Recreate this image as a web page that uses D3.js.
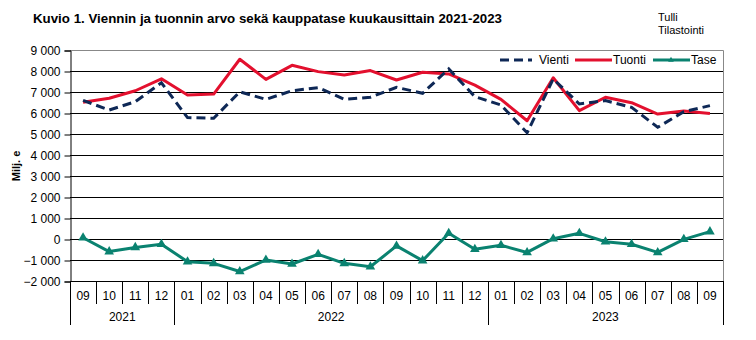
<!DOCTYPE html>
<html><head><meta charset="utf-8">
<script src="https://cdn.jsdelivr.net/npm/d3@7"></script>
<style>body{margin:0;background:#fff}svg{display:block;font-family:"Liberation Sans",Arial,sans-serif}</style>
</head><body><svg id="c" width="756" height="340"></svg>
<script>
const months = ["09","10","11","12","01","02","03","04","05","06","07","08","09","10","11","12","01","02","03","04","05","06","07","08","09"];
const years = [{label:"2021", start:0, end:4},{label:"2022", start:4, end:16},{label:"2023", start:16, end:25}];
const vienti = [6600,6140,6540,7440,5780,5750,7010,6650,7060,7210,6650,6750,7220,6940,8100,6780,6380,5060,7620,6430,6590,6270,5320,6060,6350];
const tuonti = [6510,6700,7060,7630,6860,6900,8560,7600,8270,7970,7810,8020,7570,7940,7860,7330,6650,5630,7680,6110,6750,6490,5950,6100,5980];
const tase = [60,-600,-400,-250,-1080,-1160,-1550,-1000,-1190,-730,-1160,-1320,-330,-1030,270,-490,-300,-640,15,270,-130,-250,-640,-15,350];
const yTicks = [9000,8000,7000,6000,5000,4000,3000,2000,1000,0,-1000,-2000];

const svg = d3.select("#c");
const L = 70, R = 723, T = 50, B = 281;
const x = d3.scaleBand().domain(d3.range(months.length)).range([L, R]).paddingInner(0).paddingOuter(0);
const y = d3.scaleLinear().domain([-2000, 9000]).range([B, T]);
const fmt = v => d3.format(",")(v).replace(/,/g, "\u00a0");

// title
svg.append("text").attr("x", 33).attr("y", 23).attr("font-size", 13.3).attr("font-weight", "bold").attr("fill", "#000")
  .text("Kuvio 1. Viennin ja tuonnin arvo sekä kauppatase kuukausittain 2021-2023");
svg.append("text").attr("x", 658).attr("y", 21).attr("font-size", 11).text("Tulli");
svg.append("text").attr("x", 658).attr("y", 34).attr("font-size", 11).text("Tilastointi");

// gridlines
svg.append("g").selectAll("line").data(yTicks.filter(d => d < 9000)).join("line")
  .attr("x1", L).attr("x2", R).attr("y1", d => Math.round(y(d)) + 0.5).attr("y2", d => Math.round(y(d)) + 0.5)
  .attr("stroke", "#000").attr("stroke-width", 1);
// plot border top/right
svg.append("path").attr("d", `M${L},${T + 0.5}H${R + 0.5}V${B}`).attr("fill", "none").attr("stroke", "#888").attr("stroke-width", 1);

// y axis
const yAxis = d3.axisLeft(y).tickValues(yTicks).tickFormat(fmt).tickSize(6).tickPadding(4);
const gy = svg.append("g").attr("transform", `translate(${L + 0.5},0.5)`).call(yAxis);
gy.select(".domain").attr("stroke", "#000");
gy.selectAll(".tick line").attr("stroke", "#000");
gy.selectAll("text").attr("font-size", 12).attr("fill", "#000").attr("font-family", "Liberation Sans, Arial, sans-serif");
svg.append("text").attr("transform", "translate(20,166) rotate(-90)").attr("text-anchor", "middle")
  .attr("font-size", 11).attr("font-weight", "bold").text("Milj. e");

// x axis
svg.append("line").attr("x1", L).attr("x2", R).attr("y1", B + 0.5).attr("y2", B + 0.5).attr("stroke", "#000");
const gx = svg.append("g");
const bounds = d3.range(months.length + 1);
const yearBounds = new Set(years.flatMap(d => [d.start, d.end]));
gx.selectAll("line").data(bounds).join("line")
  .attr("x1", i => Math.round(i < months.length ? x(i) : R) + 0.5)
  .attr("x2", i => Math.round(i < months.length ? x(i) : R) + 0.5)
  .attr("y1", B).attr("y2", i => yearBounds.has(i) ? 325 : 304).attr("stroke", "#000");
gx.selectAll("text.m").data(months).join("text").attr("class", "m")
  .attr("x", (d, i) => x(i) + x.bandwidth() / 2).attr("y", 300).attr("text-anchor", "middle")
  .attr("font-size", 12).text(d => d);
gx.selectAll("text.yr").data(years).join("text").attr("class", "yr")
  .attr("x", d => (x(d.start) + (d.end < months.length ? x(d.end) : R)) / 2).attr("y", 321).attr("text-anchor", "middle")
  .attr("font-size", 12).text(d => d.label);

const cx = i => x(i) + x.bandwidth() / 2;
const line = d3.line().x((d, i) => cx(i)).y(d => y(d));
svg.append("path").datum(tase).attr("d", line).attr("fill", "none").attr("stroke", "#0a8270").attr("stroke-width", 3).attr("stroke-linejoin", "round");
svg.append("g").selectAll("path").data(tase).join("path")
  .attr("d", d3.symbol(d3.symbolTriangle, 40)).attr("transform", (d, i) => `translate(${cx(i)},${y(d)})`).attr("fill", "#0a8270");
svg.append("path").datum(tuonti).attr("d", line).attr("fill", "none").attr("stroke", "#e3102e").attr("stroke-width", 3).attr("stroke-linejoin", "round");
svg.append("path").datum(vienti).attr("d", line).attr("fill", "none").attr("stroke", "#0e2856").attr("stroke-width", 3).attr("stroke-dasharray", "9,5");

// legend
const lg = svg.append("g").attr("font-size", 12);
const items = [
  {name: "Vienti", c: "#0e2856", dash: "9,5", x1: 500, x2: 532, tx: 539},
  {name: "Tuonti", c: "#e3102e", dash: null, x1: 575, x2: 612, tx: 613},
  {name: "Tase", c: "#0a8270", dash: null, x1: 653, x2: 690, tx: 691}
];
items.forEach(it => {
  lg.append("line").attr("x1", it.x1).attr("x2", it.x2).attr("y1", 60).attr("y2", 60).attr("stroke", it.c).attr("stroke-width", 3).attr("stroke-dasharray", it.dash);
  lg.append("text").attr("x", it.tx).attr("y", 64).text(it.name);
});
lg.append("path").attr("d", d3.symbol(d3.symbolTriangle, 14)).attr("transform", "translate(671,60)").attr("fill", "#0a8270");
</script></body></html>
